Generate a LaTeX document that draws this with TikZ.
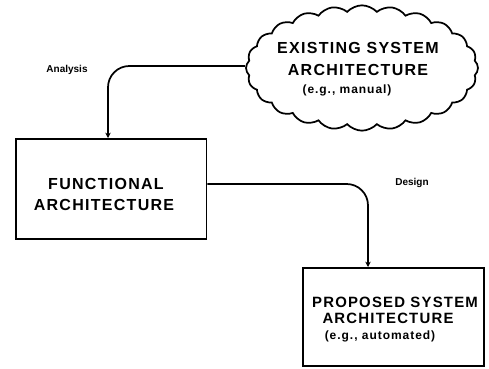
\documentclass[tikz,border=0pt]{standalone}
\usepackage{fontspec}
\setmainfont{Liberation Sans}
\newfontfamily\spacedfont[LetterSpace=8]{Liberation Sans}
\usetikzlibrary{shapes.symbols,arrows.meta}
\begin{document}
\begin{tikzpicture}[x=0.75pt,y=-0.75pt,
  every node/.style={inner sep=0pt},
  bigtxt/.style={font=\spacedfont\bfseries\fontsize{12}{14}\selectfont},
  midtxt/.style={font=\spacedfont\bfseries\fontsize{11.2}{13}\selectfont},
  smalltxt/.style={font=\spacedfont\bfseries\fontsize{9}{11}\selectfont},
  lbl/.style={font=\bfseries\fontsize{7.5}{9}\selectfont},
  blockbox/.style={draw, line width=1.3pt, minimum width=143pt, minimum height=75pt, anchor=north west},
  cloudbox/.style={draw, line width=1.3pt, cloud, cloud puffs=24, cloud puff arc=95, aspect=1.9,
                   minimum width=174pt, minimum height=94pt},
  flow/.style={line width=1.3pt, rounded corners=16pt, -{Stealth[length=4pt,width=4pt]}}]
  \useasboundingbox (0,0) rectangle (489,368);

  % existing system, drawn as a cloud
  \node[cloudbox] (exist) at (362,68) {};
  \node[bigtxt] (ex1) at (358,48) {EXISTING SYSTEM};
  \node[bigtxt] (ex2) at (358,70) {ARCHITECTURE};
  \node[smalltxt] (ex3) at (347,90) {(e.g., manual)};

  % functional architecture
  \node[blockbox] (func) at (15,138) {};
  \node[bigtxt] (fu1) at (106,184) {FUNCTIONAL};
  \node[bigtxt] (fu2) at (104,205) {ARCHITECTURE};

  % proposed system architecture
  \node[blockbox, minimum width=136pt, minimum height=73.5pt] (prop) at (302,267) {};
  \node[midtxt] (pr1) at (395,302) {PROPOSED SYSTEM};
  \node[midtxt] (pr2) at (388,318) {ARCHITECTURE};
  \node[smalltxt] (pr3) at (380,336) {(e.g., automated)};

  % connectors
  \coordinate (funcin) at (108,138);
  \coordinate (propin) at (368,267);
  \draw[flow] (exist.west |- 0,66) -| (funcin);
  \draw[flow] (func.east |- 0,184) -| (propin);

  % labels
  \node[lbl] (analysis) at (67,70) {Analysis};
  \node[lbl] (design) at (412,183) {Design};
\end{tikzpicture}
\end{document}
